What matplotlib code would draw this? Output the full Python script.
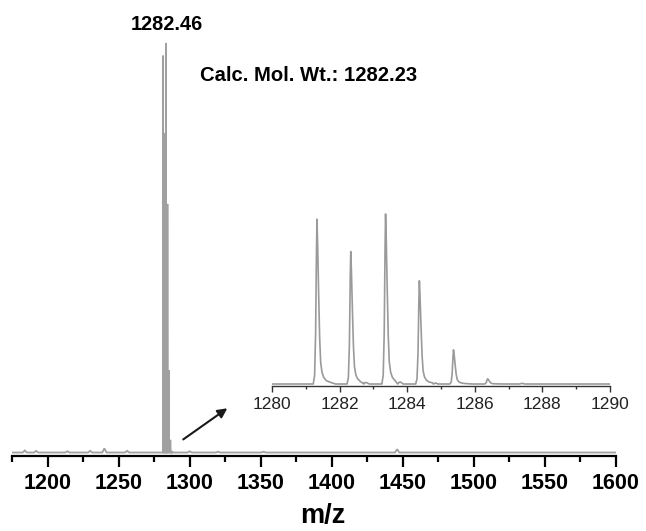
import numpy as np
import matplotlib
matplotlib.use("Agg")
import matplotlib.pyplot as plt
from matplotlib.ticker import MultipleLocator

plt.rcParams['font.family'] = ['Liberation Sans', 'DejaVu Sans']

# ---- data ----
# isotope peaks (m/z, relative intensity %)
peak_mz = [1281.33, 1282.33, 1283.36, 1284.36, 1285.37, 1286.38]
peak_int = [96.9, 77.9, 100.0, 60.7, 20.1, 3.1]
# small satellite bumps
bump_mz = [1282.80, 1283.80, 1284.85, 1287.40]
bump_int = [0.8, 1.2, 0.6, 0.4]
# baseline noise bumps in the full spectrum
noise_mz = [1184, 1192, 1214, 1230, 1240, 1256, 1300, 1320, 1352, 1446]
noise_int = [0.5, 0.4, 0.3, 0.4, 1.0, 0.4, 0.3, 0.2, 0.2, 0.8]
# peak profile read from one isotope peak (offset in m/z, fraction of height)
shape_dx = [-0.11, -0.07, -0.04, -0.015, 0.0, 0.02, 0.05, 0.08, 0.11, 0.15, 0.20, 0.28, 0.40, 0.55]
shape_f = [0.0, 0.05, 0.30, 0.80, 1.0, 0.85, 0.55, 0.28, 0.13, 0.07, 0.04, 0.02, 0.01, 0.0]
bump_dx = [-0.08, 0.0, 0.08]
bump_f = [0.0, 1.0, 0.0]

main_ticks = [1200, 1250, 1300, 1350, 1400, 1450, 1500, 1550, 1600]
inset_ticks = [1280, 1282, 1284, 1286, 1288, 1290]
main_label = "1282.46"
calc_label = "Calc. Mol. Wt.: 1282.23"
x_label = "m/z"


def build(xmin, xmax, peaks, bumps, extra=()):
    xs = [xmin, xmax]
    ys = [0.0, 0.0]
    for c, h in zip(*peaks):
        for dx, f in zip(shape_dx, shape_f):
            xs.append(c + dx); ys.append(h * f)
    for c, h in zip(*bumps):
        for dx, f in zip(bump_dx, bump_f):
            xs.append(c + dx); ys.append(h * f)
    for c, h, w in extra:
        for dx, f in zip([-w, 0, w], [0, 1, 0]):
            xs.append(c + dx); ys.append(h * f)
    order = np.argsort(xs)
    return np.array(xs)[order], np.array(ys)[order]


fig = plt.figure(figsize=(6.46, 5.31), dpi=100)

# ---- main axes ----
ax = fig.add_axes([12/646, 75/531, 604/646, 436/531])
mx, my = build(1175, 1600, (peak_mz, peak_int), (bump_mz, bump_int),
               extra=[(c, h, 1.5) for c, h in zip(noise_mz, noise_int)])
ax.plot(mx, my, color='#a0a0a0', lw=1.3, solid_joinstyle='miter')
ax.set_xlim(1175, 1600)
ax.set_ylim(-0.85, 105.6)
for s in ['top', 'left', 'right']:
    ax.spines[s].set_visible(False)
ax.spines['bottom'].set_linewidth(1.6)
ax.set_yticks([])
ax.set_xticks(main_ticks)
ax.xaxis.set_minor_locator(MultipleLocator(25))
ax.tick_params(axis='x', which='major', direction='out', length=8, width=1.6, pad=4.5,
               labelsize=15.5)
ax.tick_params(axis='x', which='minor', direction='out', length=4.5, width=1.6)
for lab in ax.get_xticklabels():
    lab.set_fontweight('bold')
ax.set_xlabel(x_label, fontsize=19.5, fontweight='bold')
ax.xaxis.set_label_coords(0.515, -67/436)
ax.xaxis.label.set_verticalalignment('baseline')

ax.annotate('', xy=(1326.5, 10.8), xytext=(1295.5, 3.2),
            arrowprops=dict(arrowstyle='-|>', color='#1a1a1a', lw=1.5,
                            mutation_scale=14, shrinkA=0, shrinkB=0))

fig.text(167/646, 1 - 24/531, main_label, ha='center', va='center',
         fontsize=14.4, fontweight='bold')
fig.text(309/646, 1 - 76/531, calc_label, ha='center', va='center',
         fontsize=14.6, fontweight='bold')

# ---- inset ----
ins = fig.add_axes([272/646, 145.5/531, 338/646, 180.5/531])
ix, iy = build(1280, 1290, (peak_mz, peak_int), (bump_mz, bump_int))
ins.plot(ix, iy, color='#9a9a9a', lw=1.2)
ins.set_xlim(1280, 1290)
ins.set_ylim(-0.88, 105.3)
ins.patch.set_alpha(0)
for s in ['top', 'left', 'right']:
    ins.spines[s].set_visible(False)
ins.spines['bottom'].set_linewidth(1.0)
ins.spines['bottom'].set_color('#333333')
ins.set_yticks([])
ins.set_xticks(inset_ticks)
ins.xaxis.set_minor_locator(MultipleLocator(1))
ins.tick_params(axis='x', which='major', direction='out', length=4, width=1.0,
                pad=4, labelsize=12.5, color='#333333', labelcolor='#222222')
ins.tick_params(axis='x', which='minor', direction='out', length=2.5, width=1.0,
                color='#333333')

fig.savefig('out.png', dpi=100)
